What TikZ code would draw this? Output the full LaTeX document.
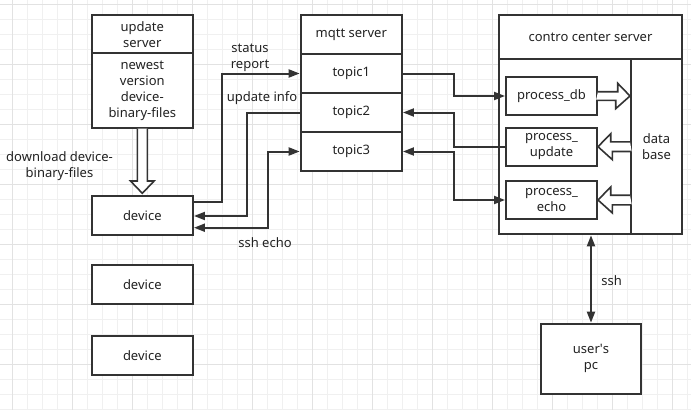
\documentclass[tikz,border=0pt]{standalone}
\usepackage{fontspec}
\setmainfont{Noto Sans}
\usetikzlibrary{arrows.meta,calc}
\definecolor{ink}{HTML}{333333}
\definecolor{txt}{HTML}{222222}
\definecolor{gridminor}{HTML}{F0F0F0}
\definecolor{gridmajor}{HTML}{E2E2E2}
\begin{document}
\begin{tikzpicture}[x=1pt,y=-1pt,
  box/.style={draw=ink,line width=2pt,fill=white,inner sep=0pt,align=center,
    font=\fontsize{13}{16}\selectfont,text=txt},
  lbl/.style={align=center,font=\fontsize{13}{16}\selectfont,inner sep=0pt,text=txt},
  link/.style={draw=ink,line width=2pt},
  tip/.style={-{Triangle[length=11pt,width=8pt]}},
  dtip/.style={{Triangle[length=11pt,width=8pt]}-{Triangle[length=11pt,width=8pt]}},
  hollow/.style={draw=ink,line width=1.6pt,fill=white,line join=miter},
  minorline/.style={draw=gridminor,line width=1pt},
  majorline/.style={draw=gridmajor,line width=1pt},
]
\useasboundingbox (0,0) rectangle (691,410);
\fill[white] (0,0) rectangle (691,410);

% background grid
\foreach \x in {12.5,27.5,...,690} \draw[minorline] (\x,0) -- (\x,410);
\foreach \y in {4.5,19.5,...,410} \draw[minorline] (0,\y) -- (691,\y);
\foreach \x in {12.5,72.5,...,690} \draw[majorline] (\x,0) -- (\x,410);
\foreach \y in {4.5,64.5,...,410} \draw[majorline] (0,\y) -- (691,\y);

% update server
\node[box,minimum width=101.3,minimum height=38.3] (us_head) at (142.3,34.2) {update\\server};
\node[box,minimum width=101.3,minimum height=74.4] (us_body) at (142.3,90.5) {newest\\version\\device-\\binary-files};

% devices
\node[box,minimum width=101.3,minimum height=39] (dev1) at (142.3,215.5) {device};
\node[box,minimum width=101.3,minimum height=39] (dev2) at (142.3,284.2) {device};
\node[box,minimum width=101.3,minimum height=39] (dev3) at (142.3,355.3) {device};

% mqtt server and its topics
\node[box,minimum width=101.3,minimum height=39] (mq) at (351.3,34.5) {mqtt server};
\node[box,minimum width=101.3,minimum height=39] (t1) at (351.3,73.5) {topic1};
\node[box,minimum width=101.3,minimum height=39] (t2) at (351.3,112.5) {topic2};
\node[box,minimum width=101.3,minimum height=39] (t3) at (351.3,151.5) {topic3};

% control center server
\node[box,minimum width=183,minimum height=44] (cc_head) at (590.5,37) {contro center server};
\node[box,minimum width=132,minimum height=175.3] (cc_body) at (565,146.65) {};
\node[box,minimum width=51,minimum height=175.3] (db) at (656.5,146.65) {data\\base};
\node[box,minimum width=91,minimum height=38] (pdb) at (551.5,96) {process\_db};
\node[box,minimum width=91,minimum height=38] (pupd) at (551.5,146.7) {process\_\\update};
\node[box,minimum width=91,minimum height=38] (pecho) at (551.5,200) {process\_\\echo};

% user's pc
\node[box,minimum width=100.6,minimum height=70] (pc) at (591,358.7) {user\textquotesingle s\\pc};

% device <-> mqtt
\draw[link,tip] (dev1.east |- 0,201.7) -- (221.7,201.7) |- (t1.west);
\draw[link,tip] (t2.west) -| (247.3,216) -- (dev1.east |- 0,216);
\draw[link,dtip] (dev1.east |- 0,227.7) -- (267.7,227.7) |- (t3.west);

% mqtt <-> processes
\draw[link,tip] (t1.east) -| (454,96) -- (pdb.west);
\draw[link,tip] (pupd.west) -| (454,112.5) -- (t2.east);
\draw[link,dtip] (t3.east) -| (454,200) -- (pecho.west);

% ssh
\draw[link,dtip] (pc.north) -- (pc.north |- cc_body.south);

% hollow arrows
\draw[hollow] ($(us_body.south)+(-5,0)$) -- ++(0,52.3) -- ++(-6.8,0)
  -- ($(us_body.south)+(0,64.6)$) -- ++(11.8,-12.3) -- ++(-6.8,0) -- ++(0,-52.3);
\draw[hollow] ($(pdb.east)+(0,-4.3)$) -- ++(19.7,0) -- ++(0,-8.4)
  -- (db.west |- pdb.east) -- ++(-14.3,12.7) -- ++(0,-8.4) -- ++(-19.7,0);
\draw[hollow] ($(db.west |- pupd.east)+(0,-4.8)$) -- ++(-19.3,0) -- ++(0,-8.2)
  -- (pupd.east) -- ++(14.4,13) -- ++(0,-8.2) -- ++(19.3,0);
\draw[hollow] ($(db.west |- pecho.east)+(0,-4.8)$) -- ++(-19.3,0) -- ++(0,-8.2)
  -- (pecho.east) -- ++(14.4,13) -- ++(0,-8.2) -- ++(19.3,0);

% labels
\node[lbl] (dl) at (59.5,166) {download device-\\binary-files};
\node[lbl] (sr) at (250,57.5) {status\\report};
\node[lbl] (ui) at (262,97.7) {update info};
\node[lbl] (se) at (265,242.3) {ssh echo};
\node[lbl] (sh) at (611.7,281) {ssh};
\end{tikzpicture}
\end{document}
